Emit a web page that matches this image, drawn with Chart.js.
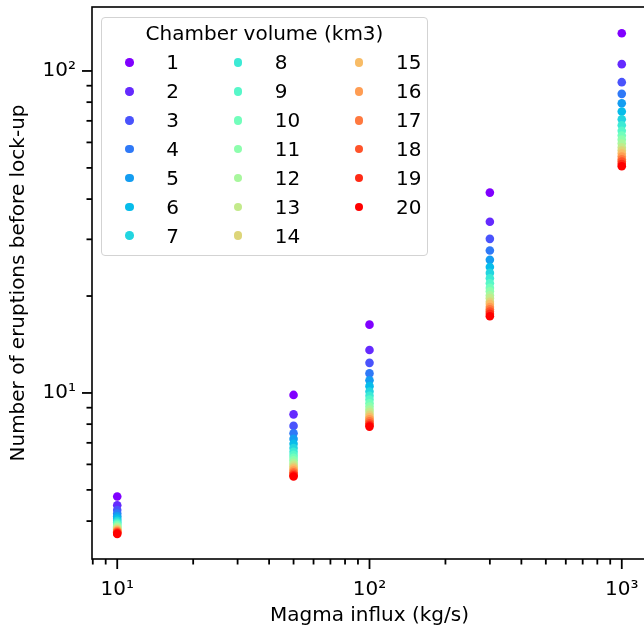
<!DOCTYPE html>
<html>
<head>
<meta charset="utf-8">
<title>Eruptions before lock-up</title>
<script src="https://cdn.jsdelivr.net/npm/chart.js@4.4.1/dist/chart.umd.min.js"></script>
<style>
  html, body { margin: 0; padding: 0; background: #fff; overflow: hidden; }
  #wrap { position: relative; width: 644px; height: 629px; overflow: hidden; }
  #chart { position: absolute; left: 0; top: 0; }
  .legend {
    position: absolute; left: 101px; top: 17px; width: 327px; height: 239px;
    box-sizing: border-box; border: 1px solid #d3d3d3; border-radius: 4px;
    background: rgba(255, 255, 255, 0.8);
    font-family: 'DejaVu Sans', sans-serif; font-size: 20px; color: #000;
  }
  .legend-title { text-align: center; height: 30px; line-height: 31px; }
  .legend-items {
    display: grid; grid-auto-flow: column; grid-template-rows: repeat(7, 28.9px);
    grid-auto-columns: max-content; column-gap: 54.5px; padding-left: 23px;
  }
  .legend-item { display: flex; align-items: center; }
  .legend-item .dot { width: 8.6px; height: 8.6px; border-radius: 50%; margin-right: 32.7px; }
</style>
</head>
<body>
<div id="wrap">
  <canvas id="chart" width="660" height="629"></canvas>
  <div class="legend" id="legend">
    <div class="legend-title">Chamber volume (km3)</div>
    <div class="legend-items" id="legendItems"></div>
  </div>
</div>
<script>
// magma influx (kg/s) on the x axis
const influx = [10, 50, 100, 300, 1000];
// chamber volumes (km3), one series each
const chamberVolumes = [1, 2, 3, 4, 5, 6, 7, 8, 9, 10, 11, 12, 13, 14, 15, 16, 17, 18, 19, 20];

// number of eruptions before lock-up, per chamber volume 1..20
const eruptionsAt10 = [4.77, 4.48, 4.33, 4.22, 4.14, 4.07, 4.01, 3.96, 3.92, 3.89, 3.85, 3.83, 3.80, 3.77, 3.75, 3.73, 3.71, 3.69, 3.67, 3.65];
const eruptionsAt50 = [9.86, 8.58, 7.90, 7.50, 7.20, 6.95, 6.74, 6.57, 6.42, 6.29, 6.18, 6.07, 5.98, 5.90, 5.82, 5.74, 5.67, 5.61, 5.55, 5.50];
const eruptionsAt100 = [16.3, 13.6, 12.4, 11.5, 10.95, 10.5, 10.1, 9.8, 9.54, 9.29, 9.08, 8.88, 8.72, 8.56, 8.41, 8.28, 8.17, 8.05, 7.95, 7.86];
const eruptionsAt300 = [41.9, 34.0, 30.1, 27.7, 25.9, 24.6, 23.6, 22.7, 21.9, 21.2, 20.7, 20.1, 19.7, 19.2, 18.9, 18.5, 18.2, 17.9, 17.6, 17.3];
const eruptionsAt1000 = [131, 105, 92.3, 84.9, 79.4, 74.8, 70.8, 67.8, 65.2, 63.0, 61.2, 59.5, 57.9, 56.6, 55.4, 54.2, 53.2, 52.3, 51.4, 50.6];

// tick positions (log axes, major at the decades)
const xTicks = [8, 9, 10, 20, 30, 40, 50, 60, 70, 80, 90, 100, 200, 300, 400, 500, 600, 700, 800, 900, 1000];
const yTicks = [4, 5, 6, 7, 8, 9, 10, 20, 30, 40, 50, 60, 70, 80, 90, 100];
const decadeLabels = { 1: '10¹', 2: '10²', 3: '10³' };

const eruptionsByInflux = [eruptionsAt10, eruptionsAt50, eruptionsAt100, eruptionsAt300, eruptionsAt1000];

// matplotlib 'rainbow' colormap
function rainbow(t) {
  const r = Math.min(1, Math.abs(2 * t - 0.5));
  const g = Math.sin(Math.PI * t);
  const b = Math.cos(Math.PI * t / 2);
  return 'rgb(' + Math.round(r * 255) + ',' + Math.round(g * 255) + ',' + Math.round(b * 255) + ')';
}

const FONT = { family: "'DejaVu Sans', sans-serif", size: 20 };

function isDecade(v) {
  const l = Math.log10(v);
  return Math.abs(l - Math.round(l)) < 1e-9;
}

const datasets = chamberVolumes.map(function(vol, i) {
  const color = rainbow(i / (chamberVolumes.length - 1));
  return {
    label: String(vol),
    data: influx.map(function(q, j) { return { x: q, y: eruptionsByInflux[j][i] }; }),
    backgroundColor: color,
    borderColor: color,
    pointRadius: 4.3,
    pointBorderWidth: 0,
    pointHoverRadius: 4.3,
    order: chamberVolumes.length - i // later volumes drawn on top
  };
});

// axes frame and outward ticks, matplotlib style
const frameAndTicks = {
  id: 'frameAndTicks',
  afterDraw: function(chart) {
    const ctx = chart.ctx;
    const a = chart.chartArea;
    const xs = chart.scales.x, ys = chart.scales.y;
    ctx.save();
    ctx.strokeStyle = '#000';
    ctx.lineWidth = 1.6;
    ctx.strokeRect(a.left, a.top, a.right - a.left, a.bottom - a.top);
    ctx.lineWidth = 1.8;
    xs.ticks.forEach(function(t) {
      const px = xs.getPixelForValue(t.value);
      const len = isDecade(t.value) ? 10 : 5.5;
      ctx.beginPath();
      ctx.moveTo(px, a.bottom);
      ctx.lineTo(px, a.bottom + len);
      ctx.stroke();
    });
    ys.ticks.forEach(function(t) {
      const py = ys.getPixelForValue(t.value);
      const len = isDecade(t.value) ? 10 : 5.5;
      ctx.beginPath();
      ctx.moveTo(a.left, py);
      ctx.lineTo(a.left - len, py);
      ctx.stroke();
    });
    ctx.restore();
  }
};

function tickLabel(value) {
  return isDecade(value) ? decadeLabels[Math.round(Math.log10(value))] : '';
}

const chart = new Chart(document.getElementById('chart'), {
  type: 'scatter',
  data: { datasets: datasets },
  options: {
    responsive: false,
    animation: false,
    layout: { padding: { top: 7, right: 13, left: 0, bottom: 0 } },
    plugins: { legend: { display: false }, tooltip: { enabled: false } },
    scales: {
      x: {
        type: 'logarithmic',
        position: 'bottom',
        min: 7.943,
        max: 1259,
        grid: { display: false, drawTicks: false },
        border: { display: false },
        ticks: { font: FONT, color: '#000', padding: 19, autoSkip: false, maxRotation: 0, callback: tickLabel },
        title: { display: true, text: 'Magma influx (kg/s)', font: FONT, color: '#000', padding: { top: 0, bottom: 1 } },
        afterBuildTicks: function(s) {
          s.ticks = xTicks.filter(function(v) { return v >= s.min && v <= s.max; }).map(function(v) { return { value: v }; });
        },
        afterFit: function(s) { s.height = 70; s.paddingLeft = 0; s.paddingRight = 0; }
      },
      y: {
        type: 'logarithmic',
        position: 'left',
        min: 3.05,
        max: 158,
        grid: { display: false, drawTicks: false },
        border: { display: false },
        ticks: { font: FONT, color: '#000', padding: 16, autoSkip: false, callback: tickLabel },
        title: { display: true, text: 'Number of eruptions before lock-up', font: FONT, color: '#000', padding: { top: 6.5, bottom: 0 } },
        afterBuildTicks: function(s) {
          s.ticks = yTicks.filter(function(v) { return v >= s.min && v <= s.max; }).map(function(v) { return { value: v }; });
        },
        afterFit: function(s) { s.width = 92; s.paddingTop = 0; s.paddingBottom = 0; }
      }
    }
  },
  plugins: [frameAndTicks]
});

// legend: three columns filled top to bottom, like the original
const legendItems = document.getElementById('legendItems');
chart.data.datasets.forEach(function(ds) {
  const item = document.createElement('div');
  item.className = 'legend-item';
  const dot = document.createElement('span');
  dot.className = 'dot';
  dot.style.background = ds.backgroundColor;
  const text = document.createElement('span');
  text.textContent = ds.label;
  item.appendChild(dot);
  item.appendChild(text);
  legendItems.appendChild(item);
});
</script>
</body>
</html>
